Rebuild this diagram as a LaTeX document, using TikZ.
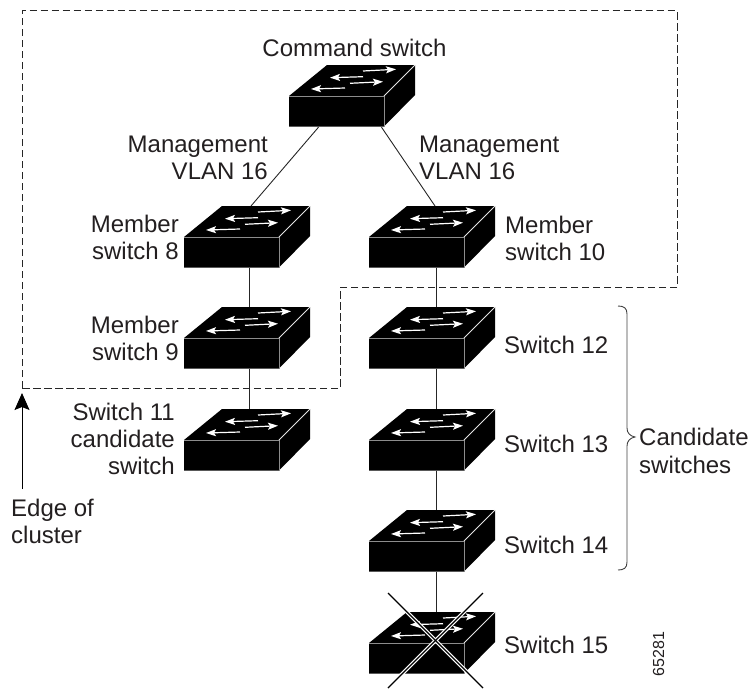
\documentclass[tikz,border=0pt]{standalone}
\usepackage{fontspec}
\setmainfont{Liberation Sans}
\usetikzlibrary{arrows.meta}
\definecolor{ink}{HTML}{231F20}
\tikzset{
  lbl/.style={inner sep=0pt,text=ink,font=\fontsize{24}{28}\selectfont},
  lblw/.style={lbl,anchor=base west},
  lble/.style={lbl,anchor=base east},
  front/.style={inner sep=0pt,minimum width=95pt,minimum height=31pt},
  link/.style={line width=0.9pt,color=black!85},
  minilink/.style={line width=1.2pt,color=white,-{Stealth[length=10pt,width=7pt,inset=2pt]}},
  edgeline/.style={line width=1pt,color=black!45},
  clusteredge/.style={line width=0.8pt,color=black!85,dash pattern=on 7.5pt off 3.5pt},
  crosscase/.style={line width=3.6pt,color=white},
  crossline/.style={line width=1.2pt,color=black},
}
\newcommand{\swnode}[4]{%
  \begin{scope}[shift={(#2,#3)}]
    \fill[black] (0,31) -- (38,0) -- (126,0) -- (126,30) -- (95,61.5) -- (0,61.5) -- cycle;
    \draw[edgeline] (0,31) -- (95,31) -- (95,61.5);
    \draw[line width=0.8pt,color=white!90!black] (95,31) -- (126,0);
    \draw[minilink] (74,6) -- (107,4.3);
    \draw[minilink] (74,11.7) -- (41,12.7);
    \draw[minilink] (61,18.3) -- (94,16.7);
    \draw[minilink] (56,23) -- (22,24);
    \node[front] (#1) at (47.5,46.5) {};
    \coordinate (#1-top) at (#4,0);
    \coordinate (#1-bot) at (#4,61.5);
  \end{scope}}
\begin{document}
\begin{tikzpicture}[x=1pt,y=-1pt]
\useasboundingbox (0,0) rectangle (750,689);
% switches
\swnode{cmd}{289}{65}{48}
\swnode{mviii}{184}{206}{65}
\swnode{mix}{184}{307}{65}
\swnode{sxi}{184}{409}{65}
\swnode{mx}{369}{206}{67}
\swnode{sxii}{369}{307}{67}
\swnode{sxiii}{369}{409}{67}
\swnode{sxiv}{369}{510}{67}
\swnode{sxv}{369}{612}{67}
% connectors
\draw[link] ([xshift=-18pt]cmd.south) -- ([xshift=2pt]mviii-top);
\draw[link] ([xshift=45pt]cmd.south) -- ([xshift=-1pt]mx-top);
\draw[link] (mviii-bot) -- (mix-top);
\draw[link] (mix-bot) -- (sxi-top);
\draw[link] (mx-bot) -- (sxii-top);
\draw[link] (sxii-bot) -- (sxiii-top);
\draw[link] (sxiii-bot) -- (sxiv-top);
\draw[link] (sxiv-bot) -- (sxv-top);
% cluster edge
\draw[clusteredge] (22,388) -- (22,10.5) -- (677,10.5) -- (677,287) -- (340,287) -- (340,388) -- cycle;
% edge arrow
\coordinate (edgefrom) at (22,489);
\coordinate (edgeto) at (22,393);
\draw[line width=1pt,-{Stealth[length=17pt,width=15pt,inset=3pt]}] (edgefrom) -- (edgeto);
% cross
\coordinate (xa) at (388,593);
\coordinate (xb) at (483,688);
\coordinate (xc) at (483,593);
\coordinate (xd) at (388,688);
\draw[crosscase] (xa) -- (xb);
\draw[crosscase] (xc) -- (xd);
\draw[crossline] (xa) -- (xb);
\draw[crossline] (xc) -- (xd);
% brace
\draw[line width=0.9pt,color=black!75]
  (618,306) .. controls (624,306) and (627,308) .. (627,314) -- (627,428)
  .. controls (627,433) and (630,436) .. (635,437)
  .. controls (630,438) and (627,441) .. (627,446) -- (627,562)
  .. controls (627,568) and (624,570) .. (618,570);
% labels
\node[lbl,anchor=base] (tcmd) at (354.5,56) {Command switch};
\node[lble] (tma) at (268,152) {Management};
\node[lble] (tmb) at (268,179) {VLAN 16};
\node[lblw] (tmc) at (419,152) {Management};
\node[lblw] (tmd) at (419,179) {VLAN 16};
\node[lble] (t8a) at (179,232) {Member};
\node[lble] (t8b) at (179,259) {switch 8};
\node[lble] (t9a) at (179,333) {Member};
\node[lble] (t9b) at (179,360) {switch 9};
\node[lblw] (t10a) at (505,233) {Member};
\node[lblw] (t10b) at (505,260) {switch 10};
\node[lble] (t11a) at (175,420) {Switch 11};
\node[lble] (t11b) at (175,447) {candidate};
\node[lble] (t11c) at (175,474) {switch};
\node[lblw] (t12) at (504,353) {Switch 12};
\node[lblw] (t13) at (504,452) {Switch 13};
\node[lblw] (t14) at (504,553) {Switch 14};
\node[lblw] (t15) at (504,653) {Switch 15};
\node[lblw] (tca) at (639,445) {Candidate};
\node[lblw] (tcb) at (639,473) {switches};
\node[lblw] (tea) at (11,516) {Edge of};
\node[lblw] (teb) at (11,543) {cluster};
\node[inner sep=0pt,text=ink,font=\fontsize{16}{18}\selectfont,rotate=90,anchor=base west] (tnum) at (664,676.5) {65281};
\end{tikzpicture}
\end{document}
